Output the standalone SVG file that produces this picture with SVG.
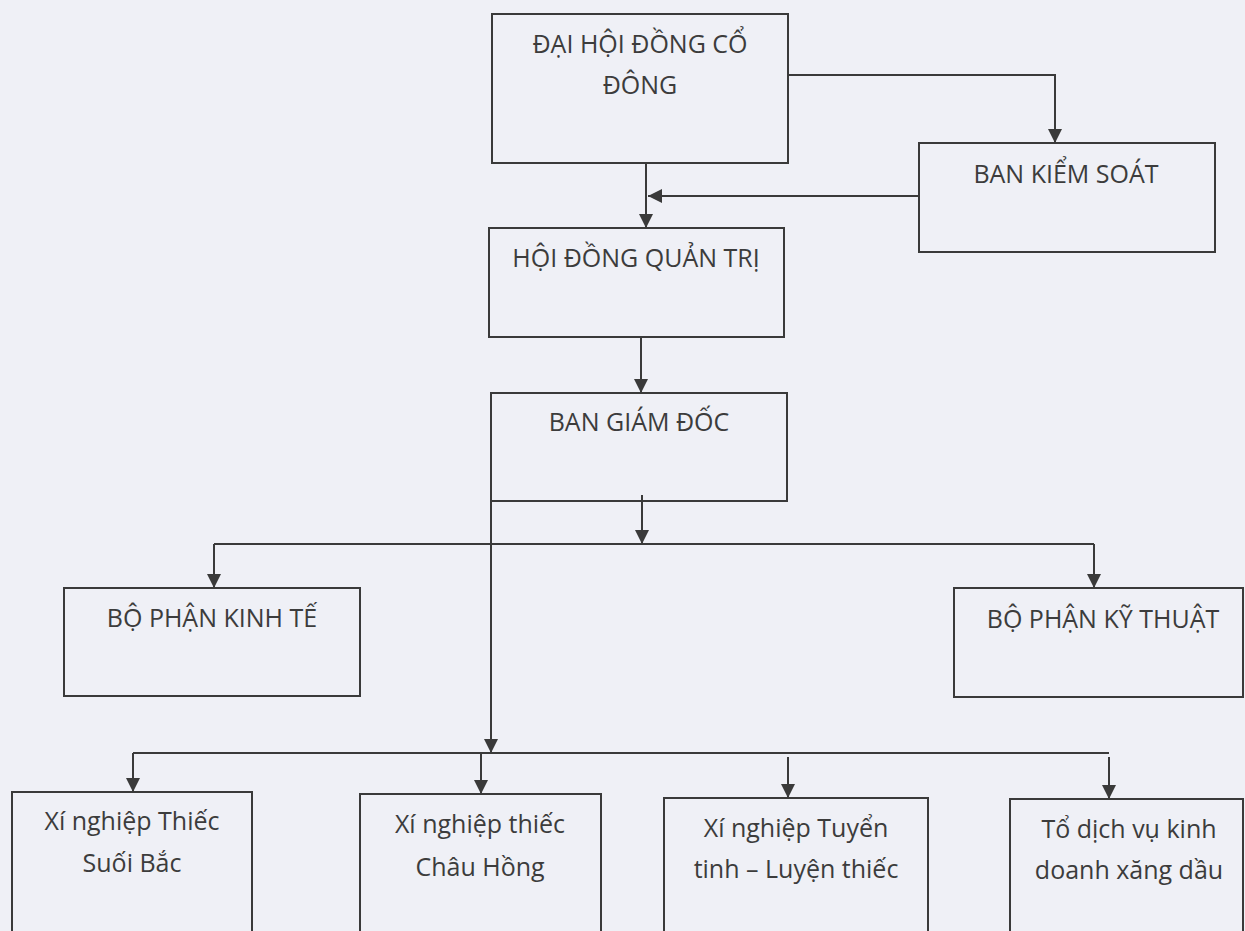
<svg xmlns="http://www.w3.org/2000/svg" width="1245" height="931" viewBox="0 0 1245 931">
<style>
  .box { fill: none; stroke: #3a3a3a; stroke-width: 2; }
  .lbl { font-family: "Open Sans", "Noto Sans", sans-serif; font-size: 25px; fill: #3c3c3c; text-anchor: middle; }
  .con { fill: none; stroke: #3a3a3a; stroke-width: 2; }
</style>
<defs>
  <marker id="arr" viewBox="0 0 14 14" refX="14" refY="7" markerWidth="14" markerHeight="14" markerUnits="userSpaceOnUse" orient="auto">
    <path d="M0,0 L14,7 L0,14 z" fill="#3a3a3a"/>
  </marker>
</defs>
<rect x="0" y="0" width="1245" height="931" fill="#eff0f6"/>

<g id="dai-hoi-dong-co-dong">
  <rect class="box" x="492" y="14" width="296" height="149"/>
  <text class="lbl" x="640" y="53">ĐẠI HỘI ĐỒNG CỔ</text>
  <text class="lbl" x="640" y="94">ĐÔNG</text>
</g>
<g id="ban-kiem-soat">
  <rect class="box" x="919" y="143" width="296" height="109"/>
  <text class="lbl" x="1066" y="183">BAN KIỂM SOÁT</text>
</g>
<g id="hoi-dong-quan-tri">
  <rect class="box" x="489" y="228" width="295" height="109"/>
  <text class="lbl" x="636" y="267">HỘI ĐỒNG QUẢN TRỊ</text>
</g>
<g id="ban-giam-doc">
  <rect class="box" x="491" y="393" width="296" height="108"/>
  <text class="lbl" x="639" y="431">BAN GIÁM ĐỐC</text>
</g>
<g id="bo-phan-kinh-te">
  <rect class="box" x="64" y="588" width="296" height="108"/>
  <text class="lbl" x="212" y="627">BỘ PHẬN KINH TẾ</text>
</g>
<g id="bo-phan-ky-thuat">
  <rect class="box" x="954" y="588" width="289" height="109"/>
  <text class="lbl" x="1103" y="628">BỘ PHẬN KỸ THUẬT</text>
</g>
<g id="xn-suoi-bac">
  <rect class="box" x="12" y="792" width="240" height="160"/>
  <text class="lbl" x="132" y="830">Xí nghiệp Thiếc</text>
  <text class="lbl" x="132" y="872">Suối Bắc</text>
</g>
<g id="xn-chau-hong">
  <rect class="box" x="360" y="794" width="241" height="160"/>
  <text class="lbl" x="480" y="833">Xí nghiệp thiếc</text>
  <text class="lbl" x="480" y="876">Châu Hồng</text>
</g>
<g id="xn-tuyen-luyen">
  <rect class="box" x="664" y="798" width="264" height="160"/>
  <text class="lbl" x="796" y="837">Xí nghiệp Tuyển</text>
  <text class="lbl" x="796" y="878">tinh – Luyện thiếc</text>
</g>
<g id="to-xang-dau">
  <rect class="box" x="1010" y="799" width="233" height="160"/>
  <text class="lbl" x="1129" y="838">Tổ dịch vụ kinh</text>
  <text class="lbl" x="1129" y="879">doanh xăng dầu</text>
</g>

<g id="connectors">
  <path class="con" d="M788,75 H1055 V143" marker-end="url(#arr)"/>
  <path class="con" d="M919,196 H648" marker-end="url(#arr)"/>
  <path class="con" d="M646,163 V228" marker-end="url(#arr)"/>
  <path class="con" d="M641,337 V393" marker-end="url(#arr)"/>
  <path class="con" d="M642,495 V544" marker-end="url(#arr)"/>
  <path class="con" d="M214,544 H1094"/>
  <path class="con" d="M214,544 V588" marker-end="url(#arr)"/>
  <path class="con" d="M1094,544 V588" marker-end="url(#arr)"/>
  <path class="con" d="M491,501 V753" marker-end="url(#arr)"/>
  <path class="con" d="M133,753 H1109"/>
  <path class="con" d="M133,753 V792" marker-end="url(#arr)"/>
  <path class="con" d="M481,753 V794" marker-end="url(#arr)"/>
  <path class="con" d="M788,757 V798" marker-end="url(#arr)"/>
  <path class="con" d="M1109,757 V799" marker-end="url(#arr)"/>
</g>
</svg>
